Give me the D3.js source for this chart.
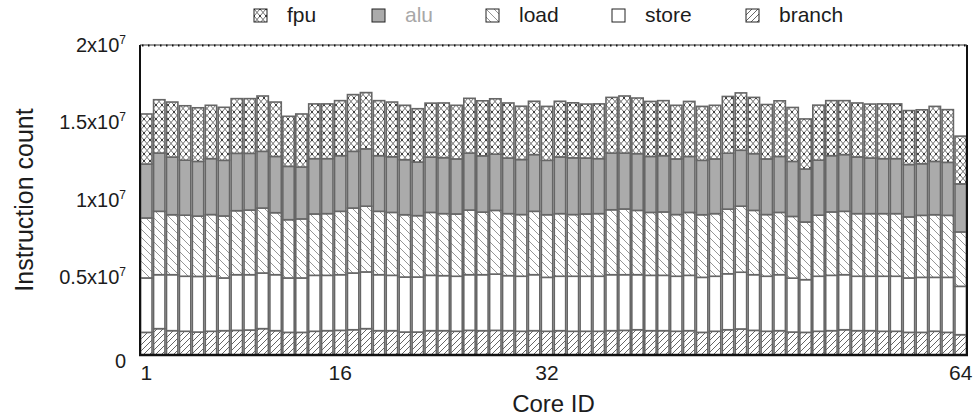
<!DOCTYPE html>
<html>
<head>
<meta charset="utf-8">
<script src="https://cdn.jsdelivr.net/npm/d3@7/dist/d3.min.js"></script>
<style>
body { margin: 0; background: #fff; }
svg text { font-family: "Liberation Sans", Arial, Helvetica, sans-serif; fill: #1c1c1c; }
</style>
</head>
<body>
<div id="wrap"></div>
<script>
var WIDTH = 973, HEIGHT = 416;
var MARGIN = {top: 45, right: 6, bottom: 61, left: 140};
var UNIT = 1e6;

// values in millions of instructions, one entry per core
var cores = d3.range(1, 65);
var branch = [1.46,1.70,1.57,1.53,1.48,1.53,1.57,1.59,1.61,1.70,1.57,1.46,1.46,1.53,1.57,1.59,
              1.63,1.70,1.57,1.57,1.48,1.48,1.57,1.57,1.53,1.59,1.57,1.59,1.57,1.53,1.57,1.53,
              1.57,1.53,1.53,1.53,1.57,1.59,1.63,1.57,1.57,1.53,1.57,1.46,1.53,1.63,1.68,1.59,
              1.53,1.57,1.48,1.46,1.53,1.57,1.63,1.57,1.57,1.53,1.53,1.46,1.46,1.53,1.46,1.31];
var store = [3.51,3.48,3.61,3.55,3.59,3.55,3.40,3.59,3.57,3.59,3.61,3.51,3.51,3.61,3.57,3.59,
             3.66,3.66,3.61,3.57,3.55,3.55,3.57,3.55,3.55,3.59,3.61,3.63,3.55,3.55,3.61,3.48,
             3.51,3.55,3.55,3.55,3.61,3.59,3.55,3.57,3.57,3.55,3.57,3.55,3.55,3.61,3.66,3.59,
             3.55,3.61,3.48,3.40,3.55,3.57,3.55,3.51,3.51,3.55,3.55,3.51,3.55,3.48,3.55,3.12];
var load = [3.87,4.09,3.87,3.94,3.89,3.98,4.00,4.13,4.17,4.19,4.00,3.76,3.81,3.96,3.98,4.09,
            4.19,4.24,4.09,4.06,4.02,3.96,4.06,4.00,4.02,4.17,4.04,4.11,4.00,3.98,4.09,4.04,
            4.04,3.98,4.02,4.04,4.19,4.24,4.15,4.06,4.09,3.98,4.06,4.04,4.04,4.17,4.26,4.15,
            3.98,4.02,3.98,3.72,3.94,4.09,4.09,4.04,4.04,4.04,4.04,3.94,4.00,4.04,4.00,3.51];
var alu = [3.48,3.76,3.72,3.55,3.53,3.61,3.59,3.70,3.66,3.66,3.63,3.44,3.35,3.57,3.55,3.59,
           3.66,3.70,3.59,3.59,3.55,3.46,3.57,3.61,3.55,3.68,3.63,3.63,3.59,3.55,3.66,3.51,
           3.66,3.66,3.61,3.55,3.66,3.61,3.66,3.61,3.63,3.59,3.61,3.51,3.53,3.61,3.61,3.66,
           3.59,3.61,3.55,3.42,3.55,3.63,3.66,3.66,3.59,3.55,3.55,3.38,3.33,3.44,3.42,3.10];
var fpu = [3.23,3.44,3.55,3.51,3.46,3.44,3.42,3.53,3.53,3.57,3.51,3.23,3.42,3.53,3.53,3.55,
           3.66,3.63,3.55,3.53,3.51,3.44,3.48,3.53,3.46,3.53,3.55,3.57,3.55,3.44,3.44,3.48,
           3.59,3.55,3.48,3.53,3.59,3.68,3.59,3.55,3.55,3.46,3.55,3.48,3.46,3.66,3.70,3.63,
           3.51,3.59,3.48,3.23,3.55,3.55,3.48,3.48,3.48,3.53,3.53,3.48,3.48,3.55,3.40,3.08];

var stack_keys = ['branch', 'store', 'load', 'alu', 'fpu'];
var legend_keys = ['fpu', 'alu', 'load', 'store', 'branch'];
var y_tick_values = [0, 0.5e7, 1e7, 1.5e7, 2e7];
var y_tick_labels = [['0', ''], ['0.5x10', '7'], ['1x10', '7'], ['1.5x10', '7'], ['2x10', '7']];
var x_tick_values = [1, 16, 32, 64];

var rows = cores.map(function(c, i) {
    return {core: c, branch: branch[i] * UNIT, store: store[i] * UNIT,
            load: load[i] * UNIT, alu: alu[i] * UNIT, fpu: fpu[i] * UNIT};
});

var svg = d3.select('#wrap').append('svg')
    .attr('width', WIDTH)
    .attr('height', HEIGHT);

// fill patterns
var defs = svg.append('defs');

var p_fpu = defs.append('pattern').attr('id', 'pat-fpu')
    .attr('patternUnits', 'userSpaceOnUse').attr('width', 6).attr('height', 7);
p_fpu.append('rect').attr('width', 6).attr('height', 7).attr('fill', '#fff');
p_fpu.append('path').attr('d', 'M0,0L6,7M6,0L0,7')
    .attr('stroke', '#6e6e6e').attr('stroke-width', 1);
[[0, 0], [6, 0], [0, 7], [6, 7]].forEach(function(p) {
    p_fpu.append('circle').attr('cx', p[0]).attr('cy', p[1]).attr('r', 0.9).attr('fill', '#222');
});

var p_load = defs.append('pattern').attr('id', 'pat-load')
    .attr('patternUnits', 'userSpaceOnUse').attr('width', 8).attr('height', 8);
p_load.append('rect').attr('width', 8).attr('height', 8).attr('fill', '#fff');
p_load.append('path').attr('d', 'M0,0L8,8M-2,6L2,10M6,-2L10,2')
    .attr('stroke', '#8a8a8a').attr('stroke-width', 0.9);

var p_branch = defs.append('pattern').attr('id', 'pat-branch')
    .attr('patternUnits', 'userSpaceOnUse').attr('width', 6).attr('height', 6);
p_branch.append('rect').attr('width', 6).attr('height', 6).attr('fill', '#fff');
p_branch.append('path').attr('d', 'M0,6L6,0M-2,2L2,-2M4,8L8,4')
    .attr('stroke', '#555').attr('stroke-width', 0.9);

var fills = {
    fpu: 'url(#pat-fpu)',
    alu: '#ababab',
    load: 'url(#pat-load)',
    store: '#ffffff',
    branch: 'url(#pat-branch)'
};

var scale_x = d3.scaleBand()
    .domain(cores)
    .range([MARGIN.left, WIDTH - MARGIN.right])
    .paddingInner(0.12)
    .paddingOuter(0.05);
var scale_y = d3.scaleLinear()
    .domain([0, 2e7])
    .range([HEIGHT - MARGIN.bottom, MARGIN.top]);

var series = d3.stack().keys(stack_keys)(rows);

var bars = svg.append('g').attr('id', 'bars');
bars.selectAll('g.layer')
    .data(series)
  .enter().append('g')
    .attr('class', 'layer')
    .attr('fill', function(d) { return fills[d.key]; })
  .selectAll('rect')
    .data(function(d) { return d; })
  .enter().append('rect')
    .attr('x', function(d) { return scale_x(d.data.core); })
    .attr('width', scale_x.bandwidth())
    .attr('y', function(d) { return scale_y(d[1]); })
    .attr('height', function(d) { return scale_y(d[0]) - scale_y(d[1]); })
    .attr('stroke', '#666')
    .attr('stroke-width', 1.6);

// frame
var x0 = MARGIN.left, x1 = WIDTH - MARGIN.right;
var y0 = HEIGHT - MARGIN.bottom, y1 = MARGIN.top;
svg.append('line').attr('x1', x0).attr('x2', x0).attr('y1', y1).attr('y2', y0)
    .attr('stroke', '#111').attr('stroke-width', 2);
svg.append('line').attr('x1', x1).attr('x2', x1).attr('y1', y1).attr('y2', y0)
    .attr('stroke', '#111').attr('stroke-width', 2);
svg.append('line').attr('x1', x0 - 1).attr('x2', x1 + 1).attr('y1', y0).attr('y2', y0)
    .attr('stroke', '#111').attr('stroke-width', 2.5);
svg.append('line').attr('x1', x0).attr('x2', x1).attr('y1', y1).attr('y2', y1)
    .attr('stroke', '#333').attr('stroke-width', 1.2);
svg.append('line').attr('x1', x0 + 2).attr('x2', x1).attr('y1', y1 + 0.5).attr('y2', y1 + 0.5)
    .attr('stroke', '#111').attr('stroke-width', 2.2)
    .attr('stroke-dasharray', '1.5,4.5');

// axes
var axis_x = d3.axisBottom(scale_x)
    .tickValues(x_tick_values)
    .tickSize(0)
    .tickPadding(10);
var gx = svg.append('g')
    .attr('transform', 'translate(0,' + y0 + ')')
    .call(axis_x);
gx.select('.domain').remove();
gx.selectAll('text')
    .attr('font-size', 21)
    .attr('font-family', null)
    .attr('fill', null);

var axis_y = d3.axisLeft(scale_y)
    .tickValues(y_tick_values)
    .tickSize(0)
    .tickPadding(14)
    .tickFormat(function() { return ''; });
var gy = svg.append('g')
    .attr('transform', 'translate(' + x0 + ',0)')
    .call(axis_y);
gy.select('.domain').remove();
gy.selectAll('.tick text')
    .attr('font-size', 20)
    .attr('font-family', null)
    .attr('fill', null)
    .each(function(d, i) {
        var t = d3.select(this);
        var lab = y_tick_labels[i];
        t.append('tspan').text(lab[0]);
        if (lab[1]) {
            t.append('tspan')
                .attr('font-size', 12)
                .attr('dy', '-0.7em')
                .text(lab[1]);
        }
    });
gy.selectAll('.tick').filter(function(d) { return d === 0; })
    .select('text').attr('dy', '0.6em');

svg.append('text')
    .attr('x', (x0 + x1) / 2)
    .attr('y', 412)
    .attr('text-anchor', 'middle')
    .attr('font-size', 24)
    .text('Core ID');
svg.append('text')
    .attr('transform', 'translate(33,' + ((y0 + y1) / 2) + ') rotate(-90)')
    .attr('text-anchor', 'middle')
    .attr('font-size', 25)
    .text('Instruction count');

// legend
var legend_x = [254, 372, 486, 612, 746];
var legend = svg.append('g').attr('id', 'legend')
    .selectAll('g')
    .data(legend_keys)
  .enter().append('g')
    .attr('transform', function(d, i) { return 'translate(' + legend_x[i] + ',9)'; });
legend.append('rect')
    .attr('width', 13)
    .attr('height', 13)
    .attr('fill', function(d) { return fills[d]; })
    .attr('stroke', '#222')
    .attr('stroke-width', 1);
legend.append('text')
    .attr('x', 33)
    .attr('y', 13)
    .attr('font-size', 21)
    .style('fill', function(d) { return d === 'alu' ? '#a8a8a8' : '#1c1c1c'; })
    .text(function(d) { return d; });
</script>
</body>
</html>
